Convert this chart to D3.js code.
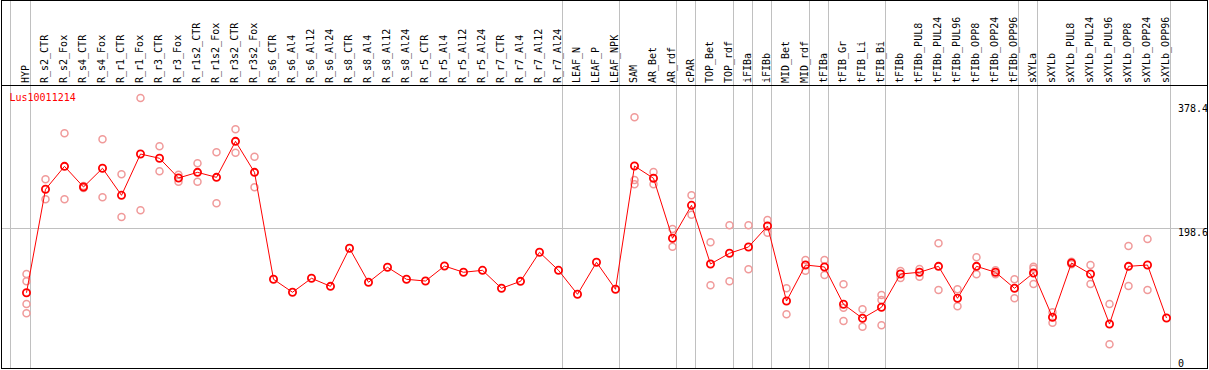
<!DOCTYPE html>
<html><head><meta charset="utf-8">
<script src="https://cdn.jsdelivr.net/npm/d3@7/dist/d3.min.js"></script>
<style>
html,body{margin:0;padding:0;background:#fff;}
svg{display:block;}
text{font-family:"DejaVu Sans Mono","Liberation Mono",monospace;font-size:10px;}
</style>
</head><body>
<svg id="chart" width="1209" height="370"></svg>
<script>
const geneName = "Lus10011214";

const categories = ["HYP","R_s2_CTR","R_s2_Fox","R_s4_CTR","R_s4_Fox","R_r1_CTR","R_r1_Fox","R_r3_CTR","R_r3_Fox",
  "R_r1s2_CTR","R_r1s2_Fox","R_r3s2_CTR","R_r3s2_Fox","R_s6_CTR","R_s6_Al4","R_s6_Al12","R_s6_Al24",
  "R_s8_CTR","R_s8_Al4","R_s8_Al12","R_s8_Al24","R_r5_CTR","R_r5_Al4","R_r5_Al12","R_r5_Al24",
  "R_r7_CTR","R_r7_Al4","R_r7_Al12","R_r7_Al24","LEAF_N","LEAF_P","LEAF_NPK","SAM","AR_Bet","AR_rdf",
  "cPAR","TOP_Bet","TOP_rdf","iFIBa","iFIBb","MID_Bet","MID_rdf","tFIBa","tFIB_Gr","tFIB_Li","tFIB_Bi",
  "tFIBb","tFIBb_PUL8","tFIBb_PUL24","tFIBb_PUL96","tFIBb_OPP8","tFIBb_OPP24","tFIBb_OPP96",
  "sXYLa","sXYLb","sXYLb_PUL8","sXYLb_PUL24","sXYLb_PUL96","sXYLb_OPP8","sXYLb_OPP24","sXYLb_OPP96"];

const meanValues = [109.7,252.4,284.1,255.6,281.4,244.1,301.1,295.2,268.0,
  275.8,268.9,318.6,275.8,128.2,110.3,129.6,118.5,
  171.0,124.1,144.8,128.2,125.8,146.5,137.9,140.6,
  115.8,125.4,165.5,140.6,107.5,151.7,114.4,284.5,267.6,184.8,
  230.3,149.3,164.1,172.8,201.7,98.2,147.9,145.2,93.7,74.4,89.6,
  135.5,137.9,146.1,102.0,146.1,137.9,115.8,
  136.9,75.8,150.7,135.5,66.5,146.1,147.9,74.8];

const replicateValues = [
  [135.5,125.4,94.1,81.3],[266.2,238.6],[329.7,238.6],[256.9,254.2],[321.4,241.3],[273.1,214.2],[378.4,223.4],[311.7,277.2],[272.5,262.9],
  [288.3,262.9],[303.4,233.1],[335.2,302.9],[297.4,255.1],[],[],[],[],
  [],[],[],[],[],[],[],[],
  [],[],[],[],[],[],[],[351.7,265.2,259.3],[276.3,259.3],[197.6,173.2],
  [244.1,217.3],[179.3,119.9],[202.7,125.4],[202.7,142.0],[210.0,192.5],[115.8,79.9],[154.8,140.1],[154.8,134.1],[121.3,89.0,70.7],[86.8,62.8],[106.5,99.6,64.7],
  [139.6,130.0],[142.4,131.8],[177.9,113.4],[114.4,90.9],[158.6,135.1],[140.6,135.1],[128.2,102.0],
  [145.6,142.8,121.7],[82.7,68.3],[148.9,152.5],[147.9,121.7],[94.1,38.5],[174.1,118.9],[183.8,113.4],[]];

const groupEnds = ["HYP","R_r7_Al24","LEAF_NPK","AR_rdf","cPAR","TOP_rdf","iFIBa","iFIBb","MID_rdf","tFIBa","tFIB_Bi","tFIBb_OPP96","sXYLa","sXYLb_OPP96"];
const tickValues = [0, 198.6, 378.4];
const gridValues = [198.6];

const svg = d3.select("#chart");
const W = 1209, H = 370;
const frameL = 1.5, frameR = 1207.5, frameT = 0.5, frameB = 368.5, headerY = 85.5;

const x = d3.scaleBand().domain(categories).range([11, 11 + 19 * categories.length]).paddingInner(0).paddingOuter(0);
const bw = x.bandwidth();
const y = d3.scaleLinear().domain([0, 378.4]).range([372.2, 98]);
const px = c => x(c) + 15.5;

svg.append("rect").attr("width", W).attr("height", H).attr("fill", "#fff");

const grid = svg.append("g").attr("stroke", "#c0c0c0").attr("stroke-width", 1).attr("shape-rendering", "crispEdges");
// first boundary
grid.append("line").attr("x1", x(categories[0]) - 0.5).attr("x2", x(categories[0]) - 0.5)
  .attr("y1", frameT).attr("y2", frameB);
grid.selectAll("line.v").data(groupEnds).join("line").attr("class", "v")
  .attr("x1", d => x(d) + bw + 0.5).attr("x2", d => x(d) + bw + 0.5)
  .attr("y1", frameT).attr("y2", frameB);
grid.selectAll("line.h").data(gridValues).join("line").attr("class", "h")
  .attr("x1", frameL).attr("x2", frameR)
  .attr("y1", d => Math.round(y(d)) + 0.5).attr("y2", d => Math.round(y(d)) + 0.5);

// category labels
svg.append("g").selectAll("text").data(categories).join("text")
  .attr("transform", d => `translate(${x(d) + 18},83) rotate(-90)`)
  .attr("text-anchor", "start").attr("fill", "#000").text(d => d);

// frame + header separator
svg.append("line").attr("x1", frameL).attr("x2", frameR).attr("y1", headerY).attr("y2", headerY)
  .attr("stroke", "#000").attr("shape-rendering", "crispEdges");

// gene label
svg.append("text").attr("x", 9.5).attr("y", 101).attr("fill", "#ff0000").text(geneName);

// y tick labels
svg.append("g").selectAll("text").data(tickValues).join("text")
  .attr("x", 1178)
  .attr("y", d => Math.max(112, Math.min(367, y(d) + 8)))
  .attr("fill", "#000").text(d => d3.format("")(d));

// replicates
const reps = [];
categories.forEach((c, i) => replicateValues[i].forEach(v => reps.push({c, v})));
svg.append("g").selectAll("circle").data(reps).join("circle")
  .attr("cx", d => px(d.c)).attr("cy", d => y(d.v)).attr("r", 3.5)
  .attr("fill", "none").attr("stroke", "#f09a9a").attr("stroke-width", 1.5);

// mean line
const pts = categories.map((c, i) => ({c, v: meanValues[i]}));
svg.append("path").datum(pts)
  .attr("d", d3.line().x(d => px(d.c)).y(d => y(d.v)))
  .attr("fill", "none").attr("stroke", "#ff0000").attr("stroke-width", 1);

svg.append("g").selectAll("circle").data(pts).join("circle")
  .attr("cx", d => px(d.c)).attr("cy", d => y(d.v)).attr("r", 3.6)
  .attr("fill", "none").attr("stroke", "#ff0000").attr("stroke-width", 1.8);

svg.append("rect").attr("x", frameL).attr("y", frameT).attr("width", frameR - frameL).attr("height", frameB - frameT)
  .attr("fill", "none").attr("stroke", "#000").attr("shape-rendering", "crispEdges");
</script>
</body></html>
